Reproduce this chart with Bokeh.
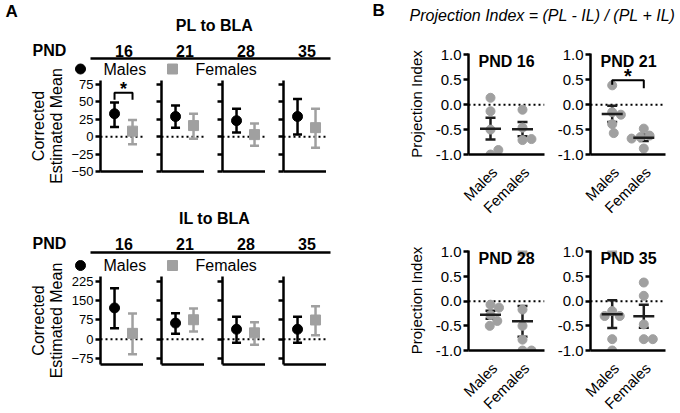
import math
import numpy as np
from bokeh.plotting import figure
from bokeh.models import Range1d, FixedTicker, Span, Whisker, TeeHead, ColumnDataSource, Label
from bokeh.layouts import row, column
from bokeh.embed import file_html
from bokeh.resources import INLINE
from bokeh.core.properties import value

FONT = "Liberation Sans"
BLACK = "#000000"
GRAY = "#A0A0A0"
DARK = "#1E1E1E"

# ---------------- data ----------------
pnd_days = ["16", "21", "28", "35"]
sexes = ["Males", "Females"]

# Panel A: corrected estimated means with error bars
pl_male_mean = [33, 29, 23, 29]
pl_male_lower = [14, 13, 6, 3]
pl_male_upper = [49, 45, 40, 54]
pl_female_mean = [8, 16, 3, 13]
pl_female_lower = [-11, -3, -13, -16]
pl_female_upper = [24, 33, 19, 40]

il_male_mean = [122, 63, 39, 39]
il_male_lower = [43, 21, -14, -14]
il_male_upper = [199, 101, 88, 88]
il_female_mean = [23, 76, 25, 75]
il_female_lower = [-58, 30, -21, 16]
il_female_upper = [100, 120, 66, 129]

pl_yticks = [-50, -25, 0, 25, 50, 75]
il_yticks = [-75, 0, 75, 150, 225]

# significance bracket, PL PND16 (top, left leg end, right leg end, star)
pl_sig_pnd = "16"
pl_sig_levels = [63, 53, 53, 68.5]

# Panel B: projection index, individual animals
pi_males_16 = [0.14, -0.13, -0.50, -1.00, -0.91]
pi_females_16 = [-0.10, -0.46, -0.71, -0.69]
pi_males_21 = [0.39, -0.15, -0.20, -0.39, -0.57]
pi_females_21 = [-0.48, -0.62, -0.65, -0.68, -0.88]
pi_males_28 = [-0.07, -0.13, -0.28, -0.40, -0.50]
pi_females_28 = [1.00, -0.17, -0.50, -0.78, -1.00, -1.00]
pi_males_35 = [1.00, -0.20, -0.30, -0.30, -0.77, -1.00]
pi_females_35 = [0.38, 0.11, -0.47, -0.77, -0.77]
pi_yticks = [-1.0, -0.5, 0.0, 0.5, 1.0]

pi_sig_pnd = "21"
pi_sig_levels = [0.49, 0.40, 0.33, 0.58]

# ---------------- layout constants ----------------
PANEL_W = 340
LAB_W = 68                      # width of the y-label strip of panel A
A_LEFT, A_GAP, A_FRAME = 32, 18, 43
A_XR = (0.22, 2.61)
B_XR = (0.3125, 2.6875)
B_YR = (-1.0, 1.03)
A_YLABEL = ["Corrected", "Estimated Mean"]


def header(w, h, x_range=None):
    p = figure(width=w, height=h, x_range=x_range or Range1d(0, w), y_range=Range1d(h, 0),
               x_axis_type=None, y_axis_type=None, output_backend="svg",
               toolbar_location=None, min_border=0)
    p.outline_line_color = None
    p.grid.visible = False
    p.background_fill_color = None
    p.border_fill_color = None
    return p


def htext(p, x, y, t, size="16px", style="normal", align="center", baseline="middle"):
    p.text(x=[x], y=[y], text=[t], text_font=value(FONT), text_font_size=size,
           text_font_style=style, text_align=align, text_baseline=baseline, text_color=BLACK)


def style_axes(p, tick_size):
    for ax in p.axis:
        ax.axis_line_width = 2.5
        ax.axis_line_color = BLACK
        ax.major_tick_line_width = 2.5
        ax.major_tick_line_color = BLACK
        ax.major_tick_out = 5
        ax.major_tick_in = 0
        ax.minor_tick_line_color = None
        ax.major_label_text_font = FONT
        ax.major_label_text_font_size = tick_size
        ax.major_label_text_color = BLACK
        ax.axis_label_text_color = BLACK
    p.grid.visible = False
    p.outline_line_color = None


def frame_center(i):
    # x of a subplot frame centre, measured from the left of panel A
    return LAB_W + A_LEFT + i * (A_FRAME + A_GAP) + A_FRAME / 2


def a_top(h, title, y_title, y_pnd, y_line, letter=None):
    p = header(PANEL_W, h)
    if letter:
        htext(p, 5, 1, letter, size="17px", style="bold", align="left", baseline="top")
    htext(p, 214, y_title, title, style="bold")
    htext(p, 49, y_pnd, "PND", style="bold")
    for i, d in enumerate(pnd_days):
        htext(p, frame_center(i) + 2, y_pnd, d, style="bold")
    p.line(x=[frame_center(0) - A_FRAME / 2 - 10, frame_center(3) + A_FRAME / 2 + 4],
           y=[y_line, y_line], line_width=2.5, line_color=BLACK)
    return p


def a_legend(h, y_leg):
    p = header(PANEL_W - LAB_W, h)
    x0 = A_LEFT  # frame left of first subplot, in legend-strip coords
    p.scatter(x=[x0 - 20], y=[y_leg], marker="circle", size=10, color=BLACK)
    htext(p, x0 + 3, y_leg, sexes[0], align="left")
    p.scatter(x=[x0 + 72], y=[y_leg], marker="square", size=10, color=GRAY)
    htext(p, x0 + 95, y_leg, sexes[1], align="left")
    return p


def a_label(h, yc):
    p = header(LAB_W, h)
    p.text(x=[38, 56], y=[yc, yc], text=A_YLABEL, text_font=value(FONT), text_font_size="16px",
           angle=math.pi / 2, text_align="center", text_baseline="middle", text_color=BLACK)
    return p


def a_panel(i, vals, yr, ticks, h, top, bottom, sig=None):
    mm, ml, mu, fm, fl, fu = [v[i] for v in vals]
    first = i == 0
    mbl = A_LEFT if first else A_GAP
    p = figure(width=mbl + A_FRAME, height=h, x_range=Range1d(*A_XR), y_range=Range1d(*yr),
               output_backend="svg", toolbar_location=None,
               min_border_left=mbl, min_border_right=0, min_border_top=top, min_border_bottom=bottom)
    p.background_fill_color = None
    p.border_fill_color = None
    style_axes(p, "13px")
    p.xaxis.ticker = FixedTicker(ticks=[])
    p.yaxis.ticker = FixedTicker(ticks=ticks)
    p.yaxis.major_label_standoff = 2
    if not first:
        p.yaxis.major_label_overrides = {t: "" for t in ticks}
    p.add_layout(Span(location=0, dimension="width", line_color=BLACK, line_width=2,
                      line_dash="2 3", level="underlay"))
    xm, xf = 1 + sexes.index("Males"), 1 + sexes.index("Females")
    for x, m, lo, hi, col, mk in [(xm, mm, ml, mu, BLACK, "circle"), (xf, fm, fl, fu, GRAY, "square")]:
        src = ColumnDataSource(dict(x=[x], m=[m], lo=[lo], hi=[hi]))
        p.add_layout(Whisker(source=src, base="x", lower="lo", upper="hi", line_color=col,
                             line_width=2.5, level="underlay",
                             upper_head=TeeHead(size=9, line_width=2.5, line_color=col),
                             lower_head=TeeHead(size=9, line_width=2.5, line_color=col)))
        p.scatter(x="x", y="m", source=src, marker=mk, size=10, color=col)
    if sig is not None:
        t, l1, l2, s = sig
        p.line(x=[xm, xm, xf, xf], y=[l1, t, t, l2], line_color=BLACK, line_width=2)
        p.add_layout(Label(x=(xm + xf) / 2, y=s, text="*", text_font=FONT, text_font_size="18px",
                           text_font_style="bold", text_align="center", text_baseline="middle",
                           text_color=BLACK))
    return p


def swarm(vals, ypx, xpx, d=9.0):
    placed = []
    xs = []
    for v in vals:
        y = v * ypx
        cands = [0.0]
        for (px, py) in placed:
            dy = abs(py - y)
            if dy < d:
                dx = math.sqrt(d * d - dy * dy)
                cands += [px + dx, px - dx]
        cands.sort(key=lambda c: (abs(c), -c))
        chosen = cands[-1]
        for c in cands:
            if all((c - px) ** 2 + (y - py) ** 2 >= d * d - 1e-6 for (px, py) in placed):
                chosen = c
                break
        placed.append((chosen, y))
        xs.append(chosen / xpx)
    return xs


def b_panel(pnd, males, females, first, left, fw, right, h, top, bottom, sig=None):
    p = figure(width=left + fw + right, height=h, x_range=Range1d(*B_XR), y_range=Range1d(*B_YR),
               output_backend="svg", toolbar_location=None,
               min_border_left=left, min_border_right=right, min_border_top=top, min_border_bottom=bottom)
    p.background_fill_color = None
    p.border_fill_color = None
    style_axes(p, "15px")
    p.yaxis.ticker = FixedTicker(ticks=pi_yticks)
    p.yaxis.major_label_overrides = {t: f"{t:.1f}" for t in pi_yticks}
    p.yaxis.major_label_standoff = 2
    p.xaxis.ticker = FixedTicker(ticks=[])
    if first:
        p.yaxis.axis_label = "Projection Index"
        p.yaxis.axis_label_text_font = FONT
        p.yaxis.axis_label_text_font_size = "15px"
        p.yaxis.axis_label_text_font_style = "normal"
        p.yaxis.axis_label_standoff = 8
    p.add_layout(Span(location=0, dimension="width", line_color=BLACK, line_width=2,
                      line_dash="2 3", level="underlay"))
    ypx = 100 / (B_YR[1] - B_YR[0])
    xpx = fw / (B_XR[1] - B_XR[0])
    for i, grp in enumerate([males, females]):
        x0 = 1 + i
        offs = swarm(grp, ypx, xpx)
        p.scatter(x=[x0 + o for o in offs], y=grp, size=9, color=GRAY)
        arr = np.array(grp)
        m = arr.mean()
        sem = arr.std(ddof=1) / math.sqrt(len(arr))
        src = ColumnDataSource(dict(x=[x0], m=[m], lo=[m - sem], hi=[m + sem]))
        p.add_layout(Whisker(source=src, base="x", lower="lo", upper="hi", line_color=DARK,
                             line_width=2.5,
                             upper_head=TeeHead(size=10, line_width=2.5, line_color=DARK),
                             lower_head=TeeHead(size=10, line_width=2.5, line_color=DARK)))
        p.scatter(x="x", y="m", source=src, marker="dash", size=21, line_width=2.5, line_color=DARK)
    if sig is not None:
        t, l1, l2, s = sig
        p.line(x=[1, 1, 2, 2], y=[l1, t, t, l2], line_color=BLACK, line_width=2)
        p.add_layout(Label(x=1.5, y=s, text="*", text_font=FONT, text_font_size="20px",
                           text_font_style="bold", text_align="center", text_baseline="middle",
                           text_color=BLACK))
    p.add_layout(Label(x=B_XR[0], y=B_YR[1], x_offset=10, y_offset=1, text="PND " + pnd,
                       text_font=FONT, text_font_size="16px", text_font_style="bold",
                       text_baseline="top", text_align="left", text_color=BLACK))
    return p


def b_strip(left, fw, right, h, y_anchor):
    # category labels under a panel-B subplot; same x scale as the subplot above it
    xpx = fw / (B_XR[1] - B_XR[0])
    xr = Range1d(B_XR[0] - left / xpx, B_XR[1] + right / xpx)
    p = header(left + fw + right, h, x_range=xr)
    p.text(x=[1 + i for i in range(len(sexes))], y=[y_anchor] * len(sexes), text=sexes,
           angle=math.pi / 4, x_offset=4, text_align="right", text_baseline="middle",
           text_font=value(FONT), text_font_size="15px", text_color=BLACK)
    return p


# ---------------- panel A ----------------
pl_vals = [pl_male_mean, pl_male_lower, pl_male_upper, pl_female_mean, pl_female_lower, pl_female_upper]
il_vals = [il_male_mean, il_male_lower, il_male_upper, il_female_mean, il_female_lower, il_female_upper]

# PL to BLA block (page y 0..200)
topA1 = a_top(60, "PL to BLA", 25, 50, 58, letter="A")
legA1 = a_legend(17, 8.5)
pl_top = 75 + 4 * 125 / 87.0
figsA1 = row([a_panel(i, pl_vals, (-50, pl_top), pl_yticks, 102, 3, 8,
                      sig=pl_sig_levels if d == pl_sig_pnd else None)
              for i, d in enumerate(pnd_days)])
labA1 = a_label(140, 65.5)
blockA1 = column(topA1, row(labA1, column(legA1, figsA1)))

# IL to BLA block (page y 200..385)
topA2 = a_top(54, "IL to BLA", 18, 43, 52)
legA2 = a_legend(19, 11)
figsA2 = row([a_panel(i, il_vals, (-98.4, 244.5), il_yticks, 97, 3, 6) for i, d in enumerate(pnd_days)])
labA2 = a_label(131, 66)
blockA2 = column(topA2, row(labA2, column(legA2, figsA2)))

colA = column(blockA1, blockA2)

# ---------------- panel B ----------------
hB = header(PANEL_W, 44)
htext(hB, 32, 0, "B", size="17px", style="bold", align="left", baseline="top")
htext(hB, 202, 15, "Projection Index = (PL - IL) / (PL + IL)", style="italic")

groups = {"16": (pi_males_16, pi_females_16), "21": (pi_males_21, pi_females_21),
          "28": (pi_males_28, pi_females_28), "35": (pi_males_35, pi_females_35)}

B_COLS = [(128, 76, 8), (38, 75, 14)]


def b_row(d1, d2, h, top, bottom, strip_h, y_anchor):
    figs = []
    strips = []
    for k, d in enumerate([d1, d2]):
        left, fw, right = B_COLS[k]
        figs.append(b_panel(d, *groups[d], k == 0, left, fw, right, h, top, bottom,
                            sig=pi_sig_levels if d == pi_sig_pnd else None))
        strips.append(b_strip(left, fw, right, strip_h, y_anchor))
    return column(row(*figs), row(*strips))


colB = column(hB,
              b_row(pnd_days[0], pnd_days[1], 119, 9, 9, 53, 6),
              b_row(pnd_days[2], pnd_days[3], 143, 34, 9, 53, 6))

page = row(colA, colB)
open("out.html", "w").write(file_html(page, INLINE))
